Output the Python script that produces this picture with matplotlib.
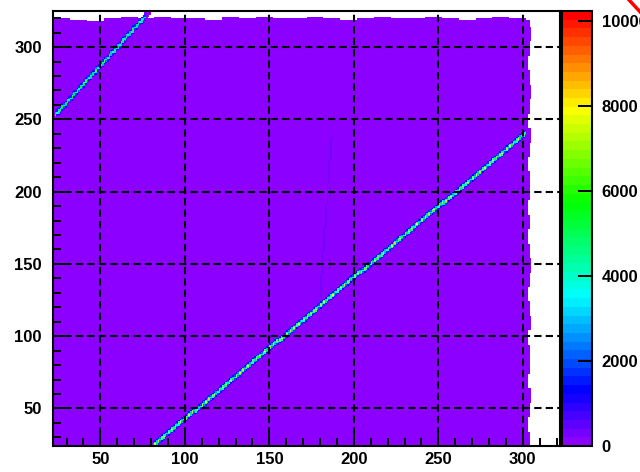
import numpy as np
import matplotlib.pyplot as plt
from matplotlib.colors import ListedColormap, BoundaryNorm, hsv_to_rgb
from matplotlib.lines import Line2D

# histogram range (1 unit bins)
x_range = (22, 322)
y_range = (24, 325)
z_max = 10230
background = 90

# ragged top edge of the filled region, one value per 10 units of x (from 22)
top_edge = [320, 319, 318, 320, 321, 320, 321, 320, 320, 319,
            321, 320, 321, 320, 320, 321, 320, 319, 320, 321,
            320, 320, 321, 320, 319, 320, 321, 320, 319, 320]
# ragged right edge of the filled region, one value per 10 units of y (from 24)
right_edge = [304, 303, 304, 305, 303, 304, 304, 303, 305, 304,
              303, 304, 305, 304, 303, 304, 303, 304, 304, 303,
              304, 305, 303, 304, 305, 304, 303, 304, 305, 304]

# bright diagonal lines: end points and peak counts along them
line_a_x = [81, 301]
line_a_y = [24.5, 240]
line_a_peaks = [5200, 7600, 6000, 8200, 4700, 6800, 7900, 5500, 3900, 7100]
line_b_x = [23, 80]
line_b_y = [252, 325]
line_b_peaks = [4200, 5600, 3600, 6400, 4800, 3300, 5900]
# faint streak
streak_x = [180, 187]
streak_y = [127, 237]
streak_val = 300

cbar_ticks = [0, 2000, 4000, 6000, 8000, 10000]

nx = x_range[1] - x_range[0]
ny = y_range[1] - y_range[0]
H = np.zeros((ny, nx))

xc = x_range[0] + np.arange(nx) + 0.5
yc = y_range[0] + np.arange(ny) + 0.5
top = np.array(top_edge)[np.minimum(((xc - x_range[0]) // 10).astype(int), len(top_edge) - 1)]
right = np.array(right_edge)[np.minimum(((yc - y_range[0]) // 10).astype(int), len(right_edge) - 1)]
fill = (yc[:, None] < top[None, :]) & (xc[None, :] < right[:, None])
H[fill] = background


def draw_line(xs, ys, peaks, sides=((1, 0.5), (2, 0.2))):
    n = int(max(abs(xs[1] - xs[0]), abs(ys[1] - ys[0]))) + 1
    for i in range(n):
        t = i / (n - 1)
        x = xs[0] + t * (xs[1] - xs[0])
        y = ys[0] + t * (ys[1] - ys[0])
        ix = int(x - x_range[0])
        iy = int(y - y_range[0])
        if not (0 <= ix < nx and 0 <= iy < ny):
            continue
        p = peaks[i % len(peaks)]
        if y > top[ix]:
            p = background
        H[iy, ix] = max(H[iy, ix], p)
        for d, f in sides:
            for s in (-d, d):
                if 0 <= iy + s < ny:
                    v = f * p if p > background else background
                    H[iy + s, ix] = max(H[iy + s, ix], v, background)


draw_line(line_a_x, line_a_y, line_a_peaks)
draw_line(line_b_x, line_b_y, line_b_peaks)
draw_line(streak_x, streak_y, [streak_val], sides=())

# ROOT-like rainbow palette, 50 steps from violet to red
hues = np.linspace(273, 0, 50) / 360.0
cmap = ListedColormap(hsv_to_rgb(np.column_stack([hues, np.ones(50), np.ones(50)])))
norm = BoundaryNorm(np.linspace(0, z_max, 51), 50)

plt.rcParams['font.family'] = ['Liberation Sans', 'DejaVu Sans']
plt.rcParams['font.weight'] = 'bold'

fig = plt.figure(figsize=(6.4, 4.72), dpi=100)
ax = fig.add_axes([53 / 640, 26 / 472, 507 / 640, 435 / 472])
cax = fig.add_axes([562 / 640, 26 / 472, 30 / 640, 435 / 472])

xe = np.arange(x_range[0], x_range[1] + 1)
ye = np.arange(y_range[0], y_range[1] + 1)
mesh = ax.pcolormesh(xe, ye, np.ma.masked_equal(H, 0), cmap=cmap, norm=norm)

ax.set_xlim(*x_range)
ax.set_ylim(*y_range)
ax.set_xticks([50, 100, 150, 200, 250, 300])
ax.set_yticks([50, 100, 150, 200, 250, 300])
ax.set_xticks(np.arange(30, 322, 10), minor=True)
ax.set_yticks(np.arange(30, 325, 10), minor=True)
ax.tick_params(which='major', direction='in', length=11, width=1.4, labelsize=12)
ax.tick_params(which='minor', direction='in', length=6, width=1.4)
ax.tick_params(axis='x', pad=4)
ax.tick_params(axis='y', pad=8)
ax.set_axisbelow(False)
ax.grid(True, which='major', color='black', linewidth=1.5, linestyle=(0, (3.5, 2)))
for s in ax.spines.values():
    s.set_linewidth(1.5)

cb = fig.colorbar(mesh, cax=cax, ticks=cbar_ticks)
cb.minorticks_off()
cb.outline.set_linewidth(1.5)
cax.tick_params(direction='in', length=10, width=1.4, labelsize=12, pad=7)

fig.add_artist(Line2D([0.983, 1.0], [1.0, 0.975], color='red', lw=2.5,
                      transform=fig.transFigure))

fig.savefig('out.png', dpi=100)
